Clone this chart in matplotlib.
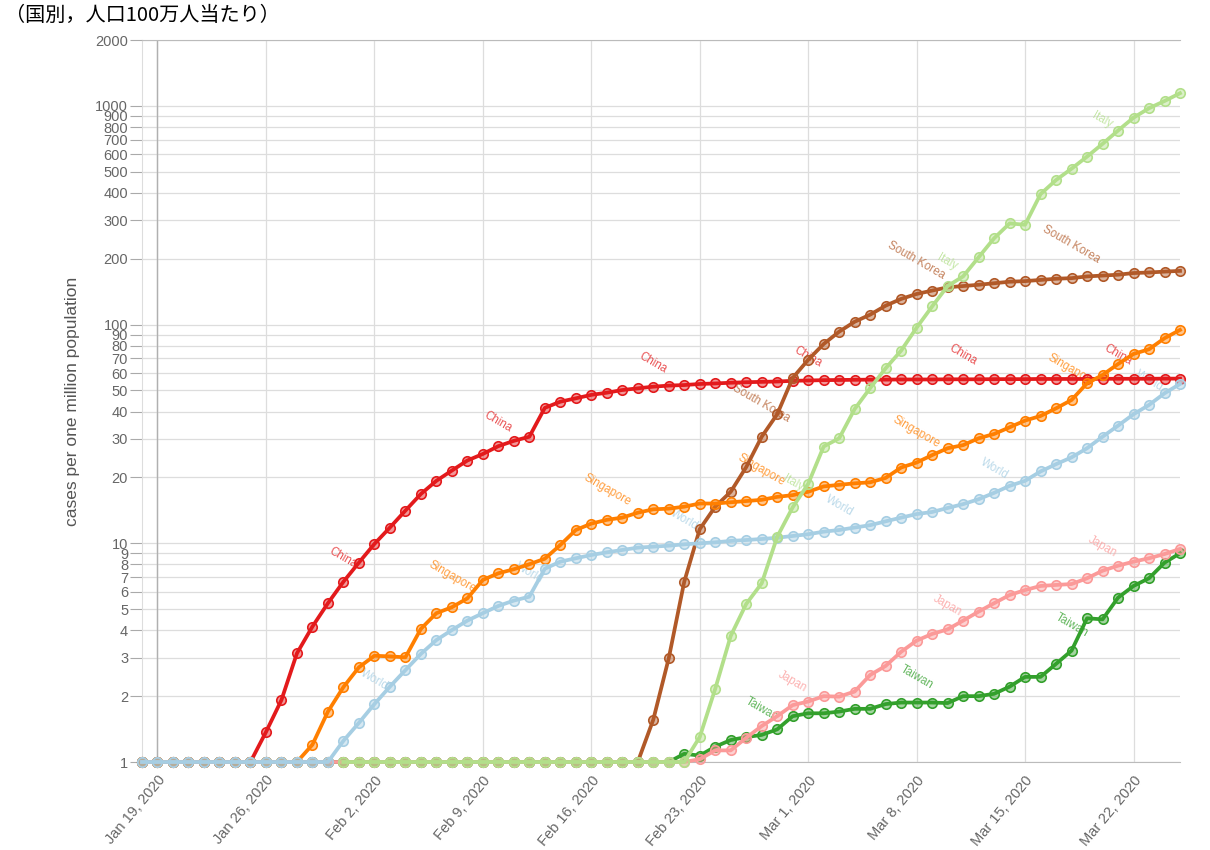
import matplotlib
matplotlib.use('Agg')
import matplotlib.pyplot as plt
from matplotlib.ticker import NullLocator
import pandas as pd

plt.rcParams['font.family'] = ['Liberation Sans', 'Noto Sans CJK JP']

dates = pd.date_range('2020-01-18', '2020-03-25', freq='D')

china = [1, 1, 1, 1, 1, 1, 1, 1, 1.37, 1.92,
         3.14, 4.16, 5.32, 6.67, 8.16, 9.93, 11.8, 14.1, 16.8, 19.3,
         21.5, 23.9, 25.6, 27.8, 29.4, 30.7, 41.6, 44.4, 46.0, 47.7,
         48.8, 50.2, 51.1, 52.0, 52.6, 52.9, 53.5, 53.8, 54.2, 54.5,
         54.7, 54.9, 55.3, 55.5, 55.7, 55.8, 55.9, 56.0, 56.0, 56.1,
         56.1, 56.1, 56.2, 56.2, 56.2, 56.3, 56.3, 56.3, 56.4, 56.4,
         56.4, 56.4, 56.5, 56.5, 56.5, 56.5, 56.6, 56.6]

south_korea = [1, 1, 1, 1, 1, 1, 1, 1, 1, 1,
               1, 1, 1, 1, 1, 1, 1, 1, 1, 1,
               1, 1, 1, 1, 1, 1, 1, 1, 1, 1,
               1, 1, 1, 1.56, 2.98, 6.67, 11.6, 14.7, 17.2, 22.3,
               30.7, 38.9, 57.0, 69.0, 81.5, 92.8, 103, 111, 122, 131,
               138, 143, 148, 150, 152, 154.5, 157, 158, 160, 162,
               163, 166, 167.5, 169, 172, 173, 174.6, 176]

singapore = [1, 1, 1, 1, 1, 1, 1, 1, 1, 1,
             1, 1.20, 1.70, 2.20, 2.71, 3.06, 3.04, 3.01, 4.06, 4.79,
             5.10, 5.60, 6.80, 7.29, 7.61, 8.02, 8.50, 9.82, 11.5, 12.3,
             12.8, 13.1, 13.8, 14.3, 14.4, 14.7, 15.2, 15.2, 15.4, 15.6,
             15.8, 16.3, 16.6, 17.2, 18.2, 18.5, 18.8, 19.0, 19.9, 22.2,
             23.4, 25.3, 27.2, 28.1, 30.2, 31.6, 33.9, 36.4, 38.2, 41.4,
             45.2, 53.9, 58.8, 66.0, 73.4, 77.1, 86.6, 94.5]

world = [1, 1, 1, 1, 1, 1, 1, 1, 1, 1,
         1, 1, 1, 1.25, 1.51, 1.84, 2.21, 2.63, 3.12, 3.61,
         4.01, 4.43, 4.79, 5.17, 5.47, 5.70, 7.65, 8.24, 8.54, 8.84,
         9.09, 9.32, 9.55, 9.65, 9.75, 9.89, 10.0, 10.1, 10.25, 10.35,
         10.46, 10.6, 10.8, 11.0, 11.3, 11.5, 11.8, 12.1, 12.6, 13.1,
         13.6, 13.9, 14.5, 15.1, 15.9, 17.0, 18.3, 19.3, 21.3, 23.0,
         24.7, 27.2, 30.7, 34.5, 38.9, 42.9, 48.5, 53.5]

italy = [None, None, None, None, None, None, None, None, None, None,
         None, None, None, 1, 1, 1, 1, 1, 1, 1,
         1, 1, 1, 1, 1, 1, 1, 1, 1, 1,
         1, 1, 1, 1, 1, 1, 1.30, 2.16, 3.77, 5.28,
         6.56, 10.7, 14.6, 18.7, 27.7, 30.2, 41.1, 51.2, 63.1, 76.0,
         96.8, 121, 150, 166, 203, 248, 290, 286, 395, 458,
         516, 586, 670, 771, 883, 975, 1052, 1142]

japan = [1, 1, 1, 1, 1, 1, 1, 1, 1, 1,
         1, 1, 1, 1, 1, 1, 1, 1, 1, 1,
         1, 1, 1, 1, 1, 1, 1, 1, 1, 1,
         1, 1, 1, 1, 1, 1, 1.03, 1.13, 1.13, 1.29,
         1.46, 1.62, 1.82, 1.89, 2.00, 1.99, 2.10, 2.50, 2.75, 3.19,
         3.59, 3.85, 4.04, 4.43, 4.87, 5.32, 5.80, 6.11, 6.38, 6.45,
         6.51, 6.92, 7.49, 7.90, 8.24, 8.54, 8.93, 9.42]

taiwan = [1, 1, 1, 1, 1, 1, 1, 1, 1, 1,
          1, 1, 1, 1, 1, 1, 1, 1, 1, 1,
          1, 1, 1, 1, 1, 1, 1, 1, 1, 1,
          1, 1, 1, 1, 1, 1.09, 1.07, 1.175, 1.26, 1.30,
          1.33, 1.41, 1.62, 1.67, 1.67, 1.70, 1.75, 1.75, 1.84, 1.87,
          1.87, 1.87, 1.86, 2.00, 2.00, 2.05, 2.21, 2.45, 2.45, 2.81,
          3.23, 4.54, 4.49, 5.64, 6.38, 6.92, 8.15, 9.00]

names = ['China', 'South Korea', 'Singapore', 'Taiwan', 'Japan', 'World', 'Italy']
values = [china, south_korea, singapore, taiwan, japan, world, italy]
colors = ['#e31a1c', '#b15928', '#ff7f00', '#33a02c', '#fb9a99', '#a6cee3', '#b2df8a']
# first index of the in-line name labels (one every 10 days)
label_start = [3, 0, 0, 0, 2, 5, 2]

y_ticks = [1, 2, 3, 4, 5, 6, 7, 8, 9, 10, 20, 30, 40, 50, 60, 70, 80, 90,
           100, 200, 300, 400, 500, 600, 700, 800, 900, 1000, 2000]
x_tick_dates = ['2020-01-19', '2020-01-26', '2020-02-02', '2020-02-09', '2020-02-16',
                '2020-02-23', '2020-03-01', '2020-03-08', '2020-03-15', '2020-03-22']
x_tick_labels = ['Jan 19, 2020', 'Jan 26, 2020', 'Feb 2, 2020', 'Feb 9, 2020', 'Feb 16, 2020',
                 'Feb 23, 2020', 'Mar 1, 2020', 'Mar 8, 2020', 'Mar 15, 2020', 'Mar 22, 2020']

fig = plt.figure(figsize=(12.1, 8.5), dpi=100)
W, H = 1210, 850
ax = fig.add_axes([142 / W, 1 - 762 / H, (1180 - 142) / W, (762 - 40) / H])

for name, vals, col, start in zip(names, values, colors, label_start):
    s = pd.Series(vals, index=dates, dtype=float)
    ax.plot(s.index, s.values, color=col, lw=2.7, marker='o', ms=6.8,
            mfc=matplotlib.colors.to_rgba(col, 0.45), mec=col, mew=1.2,
            clip_on=False, zorder=3)
    for i in range(start, len(vals), 10):
        v = vals[i]
        if v is None or v <= 1:
            continue
        ax.annotate(name, xy=(dates[i], v), xytext=(0, 16 + 1.6 * len(name)),
                    textcoords='offset pixels', ha='center', va='center',
                    rotation=-30, fontsize=8.3, color=col, alpha=0.75, zorder=2)

ax.set_yscale('log')
ax.set_ylim(1, 2000)
ax.set_xlim(dates[0], dates[-1])
ax.yaxis.set_minor_locator(NullLocator())
ax.set_yticks(y_ticks)
ax.set_yticklabels([str(t) for t in y_ticks])
ax.set_xticks(pd.to_datetime(x_tick_dates))
ax.set_xticklabels(x_tick_labels, rotation=50, ha='right', va='top',
                   rotation_mode='anchor')
ax.tick_params(axis='y', length=9, color='#aaaaaa', labelcolor='#666666',
               labelsize=10.5, pad=1)
ax.tick_params(axis='x', length=0, labelcolor='#666666', labelsize=10.5, pad=8)

ax.grid(True, color='#dddddd', lw=0.9, zorder=0)
ax.set_axisbelow(True)
ax.axvline(pd.Timestamp('2020-01-19'), color='#b0b0b0', lw=1, zorder=1)
for side in ['top', 'bottom']:
    ax.spines[side].set_color('#bbbbbb')
ax.spines['left'].set_color('#dddddd')
ax.spines['right'].set_visible(False)

fig.text(73 / W, 1 - 401 / H, 'cases per one million population', rotation=90,
         ha='center', va='center', fontsize=12.5, color='#555555')
fig.text(5 / W, 1 - 15 / H, '（国別，人口100万人当たり）', ha='left', va='center',
         fontsize=14.5, color='#000000', family=['Noto Sans CJK JP', 'DejaVu Sans'])

fig.savefig('out.png', dpi=100)
